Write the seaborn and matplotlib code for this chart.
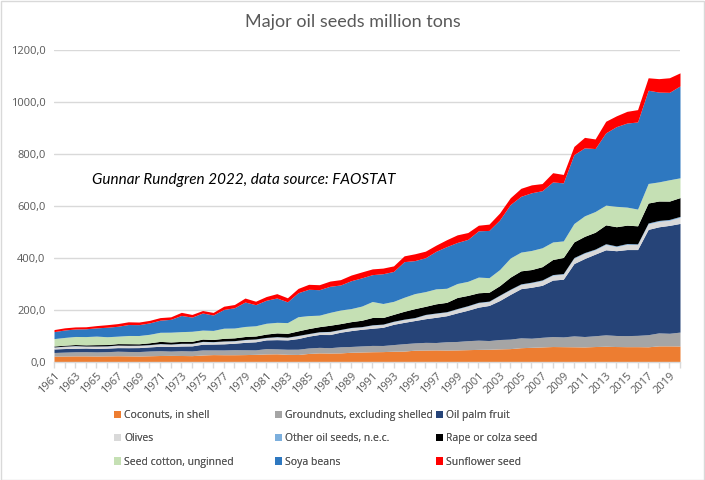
import matplotlib
matplotlib.use("Agg")
import matplotlib.pyplot as plt
from matplotlib.patches import Patch, Rectangle
import seaborn as sns
import pandas as pd

years = list(range(1961, 2021))

coconuts = [22.5, 23.0, 23.5, 23.5, 23.0, 23.5, 24.0, 23.5, 23.0, 24.0,
            25.0, 25.5, 25.0, 24.5, 27.0, 28.5, 28.0, 28.0, 28.5, 29.5,
            31.0, 31.5, 29.5, 29.0, 33.0, 35.0, 34.5, 35.0, 37.5, 38.5,
            39.5, 40.0, 41.5, 42.0, 45.5, 46.0, 46.5, 46.0, 46.5, 47.5,
            48.5, 49.0, 50.5, 51.5, 55.0, 56.5, 58.0, 59.5, 59.0, 58.5,
            58.0, 59.5, 60.5, 59.5, 59.0, 59.0, 58.5, 62.0, 62.0, 61.5]
groundnuts = [14.1, 15.0, 15.8, 16.2, 15.9, 16.3, 17.5, 17.0, 17.2, 18.3,
              18.5, 16.5, 18.5, 18.0, 19.5, 18.0, 18.4, 19.4, 18.6, 17.2,
              20.6, 19.0, 19.5, 20.2, 21.0, 21.3, 20.6, 23.6, 22.3, 23.4,
              24.3, 23.5, 25.5, 28.5, 28.0, 29.5, 28.5, 32.0, 32.5, 34.6,
              35.5, 33.5, 36.0, 36.5, 38.0, 35.0, 37.0, 38.5, 37.5, 42.0,
              40.0, 41.5, 44.0, 42.5, 42.5, 43.5, 46.5, 50.0, 48.5, 53.5]
oil_palm = [13.6, 13.8, 13.5, 14.0, 13.4, 13.6, 13.8, 14.6, 15.2, 15.8,
            17.0, 17.8, 18.0, 19.5, 22.0, 22.5, 23.5, 24.8, 28.5, 31.0,
            33.5, 35.5, 36.0, 41.0, 45.5, 49.5, 50.5, 56.0, 61.0, 64.0,
            66.0, 70.0, 78.0, 82.0, 86.0, 91.0, 97.0, 100.0, 110.0, 117.0,
            127.0, 135.0, 150.0, 172.0, 189.0, 196.0, 200.0, 217.0, 222.0, 278.0,
            300.0, 314.0, 327.0, 326.0, 331.0, 330.0, 405.0, 408.0, 415.0, 418.0]
olives = [6.5, 8.0, 9.0, 6.5, 8.0, 7.5, 8.5, 8.0, 8.0, 7.5,
          9.0, 8.0, 9.0, 8.5, 9.5, 8.0, 9.5, 8.5, 9.5, 9.5,
          8.0, 10.0, 9.0, 10.5, 8.5, 9.0, 10.5, 9.0, 10.5, 8.5,
          11.5, 10.5, 10.0, 10.5, 9.5, 14.5, 14.5, 13.5, 14.5, 15.5,
          16.5, 14.5, 18.5, 17.5, 16.0, 17.0, 18.0, 18.5, 19.0, 20.5,
          20.0, 16.5, 20.5, 15.5, 20.0, 19.0, 21.5, 21.0, 19.5, 23.5]
other_oilseeds = [1.2, 1.2, 1.3, 1.3, 1.3, 1.3, 1.4, 1.4, 1.4, 1.4,
                  1.4, 1.4, 1.4, 1.4, 1.4, 1.4, 1.5, 1.5, 1.5, 1.5,
                  1.5, 1.5, 1.5, 1.5, 1.5, 1.6, 1.6, 1.6, 1.6, 1.7,
                  1.8, 1.8, 1.8, 1.9, 1.9, 2.0, 2.0, 2.0, 2.1, 2.1,
                  2.2, 2.2, 2.3, 2.4, 2.5, 2.5, 2.6, 2.7, 2.7, 2.8,
                  2.9, 2.9, 3.0, 3.0, 3.1, 3.2, 3.3, 3.4, 3.4, 3.5]
rapeseed = [3.6, 3.7, 4.1, 4.5, 5.2, 5.0, 5.6, 6.0, 5.3, 6.9,
            8.4, 7.9, 7.3, 7.7, 8.8, 8.2, 10.2, 10.7, 11.4, 11.3,
            12.9, 14.4, 14.8, 17.5, 19.1, 19.5, 23.6, 22.5, 22.3, 24.5,
            28.1, 25.3, 26.5, 30.2, 34.4, 31.2, 35.3, 35.9, 42.6, 39.5,
            36.6, 34.2, 36.4, 46.5, 50.1, 48.6, 51.0, 58.0, 61.9, 60.2,
            62.5, 64.7, 72.5, 73.8, 70.8, 69.1, 76.7, 74.8, 70.5, 72.4]
seed_cotton = [28.5, 29.8, 31.0, 31.8, 32.8, 30.0, 28.6, 31.5, 31.8, 32.7,
               35.0, 37.6, 37.6, 38.6, 34.6, 34.9, 38.9, 37.8, 38.7, 39.4,
               41.5, 40.7, 41.3, 54.5, 49.9, 44.2, 49.5, 52.3, 50.3, 54.5,
               61.5, 53.9, 50.0, 54.0, 57.8, 56.6, 57.6, 54.2, 53.7, 54.1,
               60.3, 56.0, 61.9, 73.5, 72.1, 73.4, 72.7, 67.5, 63.7, 70.6,
               78.8, 79.7, 75.8, 78.5, 69.4, 64.4, 75.2, 73.6, 82.0, 76.0]
soya = [26.9, 28.6, 28.8, 30.0, 31.7, 36.5, 38.0, 42.1, 41.8, 43.7,
        46.6, 49.4, 62.2, 54.4, 65.6, 59.1, 72.1, 77.9, 94.0, 81.0,
        88.5, 93.6, 79.8, 92.2, 101.2, 98.0, 100.4, 96.2, 107.2, 108.5,
        103.3, 114.5, 115.0, 136.9, 126.9, 130.2, 144.4, 160.1, 157.8, 161.3,
        177.9, 181.7, 190.7, 205.5, 214.5, 221.9, 219.5, 230.9, 223.2, 265.0,
        261.6, 242.1, 278.1, 306.5, 323.3, 334.9, 358.5, 345.4, 336.3, 353.5]
sunflower = [7.8, 8.3, 7.9, 7.7, 8.7, 9.8, 10.3, 10.5, 10.0, 9.8,
             9.9, 9.6, 12.0, 10.3, 9.6, 10.1, 12.5, 12.5, 15.3, 13.4,
             14.3, 16.7, 15.6, 16.6, 19.1, 19.2, 20.0, 20.6, 21.7, 22.8,
             22.1, 21.7, 21.4, 22.3, 26.2, 25.3, 23.6, 26.6, 29.3, 26.4,
             21.6, 24.2, 27.0, 26.2, 30.8, 30.4, 27.5, 35.5, 32.4, 31.4,
             40.2, 37.0, 44.5, 41.5, 45.0, 47.6, 48.0, 51.6, 56.1, 50.2]

series_names = ["Coconuts, in shell", "Groundnuts, excluding shelled", "Oil palm fruit",
                "Olives", "Other oil seeds, n.e.c.", "Rape or colza seed",
                "Seed cotton, unginned", "Soya beans", "Sunflower seed"]
series_colors = ["#ED7D31", "#A5A5A5", "#264478", "#D9D9D9", "#7CAFDD",
                 "#000000", "#C5E0B4", "#2E78C0", "#FF0000"]

df = pd.DataFrame({"year": years,
                   series_names[0]: coconuts, series_names[1]: groundnuts,
                   series_names[2]: oil_palm, series_names[3]: olives,
                   series_names[4]: other_oilseeds, series_names[5]: rapeseed,
                   series_names[6]: seed_cotton, series_names[7]: soya,
                   series_names[8]: sunflower})

sns.set_theme(style="white")
plt.rcParams["font.family"] = ["Open Sans", "DejaVu Sans"]
txt_gray = "#595959"
grid_gray = "#D9D9D9"

fig = plt.figure(figsize=(7.05, 4.8), dpi=100)
ax = fig.add_axes([54 / 705, 1 - 362 / 480, (680 - 54) / 705, (362 - 50) / 480])

palette = sns.color_palette(series_colors)
ax.stackplot(df["year"], *[df[n] for n in series_names], colors=palette,
             labels=series_names, linewidth=0)

ax.set_xlim(1961, 2020)
ax.set_ylim(0, 1200)
yt = list(range(0, 1201, 200))
ax.set_yticks(yt)
ax.set_yticklabels([f"{v},0" for v in yt], fontsize=8, color=txt_gray)
ax.yaxis.grid(True, color=grid_gray, linewidth=1)
ax.xaxis.grid(False)
ax.set_axisbelow(True)
ax.set_xticks(years)
ax.set_xticklabels([str(y) if (y - 1961) % 2 == 0 else "" for y in years],
                   rotation=45, ha="right", rotation_mode="anchor",
                   fontsize=8, color=txt_gray)
ax.tick_params(axis="x", length=4, color=grid_gray, width=1, pad=2, direction="out", bottom=True)
ax.tick_params(axis="y", length=0, pad=6)
for s in ["top", "right", "left"]:
    ax.spines[s].set_visible(False)
ax.spines["bottom"].set_color(grid_gray)
ax.spines["bottom"].set_linewidth(1)
ax.set_xlabel("")
ax.set_ylabel("")

fig.text(0.5, 1 - 22 / 480, "Major oil seeds million tons", ha="center", va="center",
         fontsize=13, color=txt_gray, family=["Lato", "DejaVu Sans"])
ax.text(1964.6, 700, "Gunnar Rundgren 2022, data source: FAOSTAT", fontsize=11,
        style="italic", color="black", va="center", ha="left", family=["Lato", "DejaVu Sans"])

cols = [[0, 3, 6], [1, 4, 7], [2, 5, 8]]
col_x = [114, 275, 436]
for ci, idxs in enumerate(cols):
    handles = [Patch(facecolor=series_colors[i], edgecolor="none") for i in idxs]
    labels = [series_names[i] for i in idxs]
    leg = fig.legend(handles, labels, loc="upper left",
                     bbox_to_anchor=(col_x[ci] / 705, 1 - 410 / 480),
                     frameon=False, fontsize=7.5, handlelength=0.7, handleheight=0.7,
                     handletextpad=0.3, labelspacing=1.18, borderpad=0, borderaxespad=0,
                     labelcolor=txt_gray)
    fig.add_artist(leg)

fig.patches.append(Rectangle((0.5 / 705, 0.5 / 480), 703.5 / 705, 478.5 / 480,
                             transform=fig.transFigure, fill=False,
                             edgecolor=grid_gray, linewidth=1))

fig.savefig("out.png", dpi=100)
